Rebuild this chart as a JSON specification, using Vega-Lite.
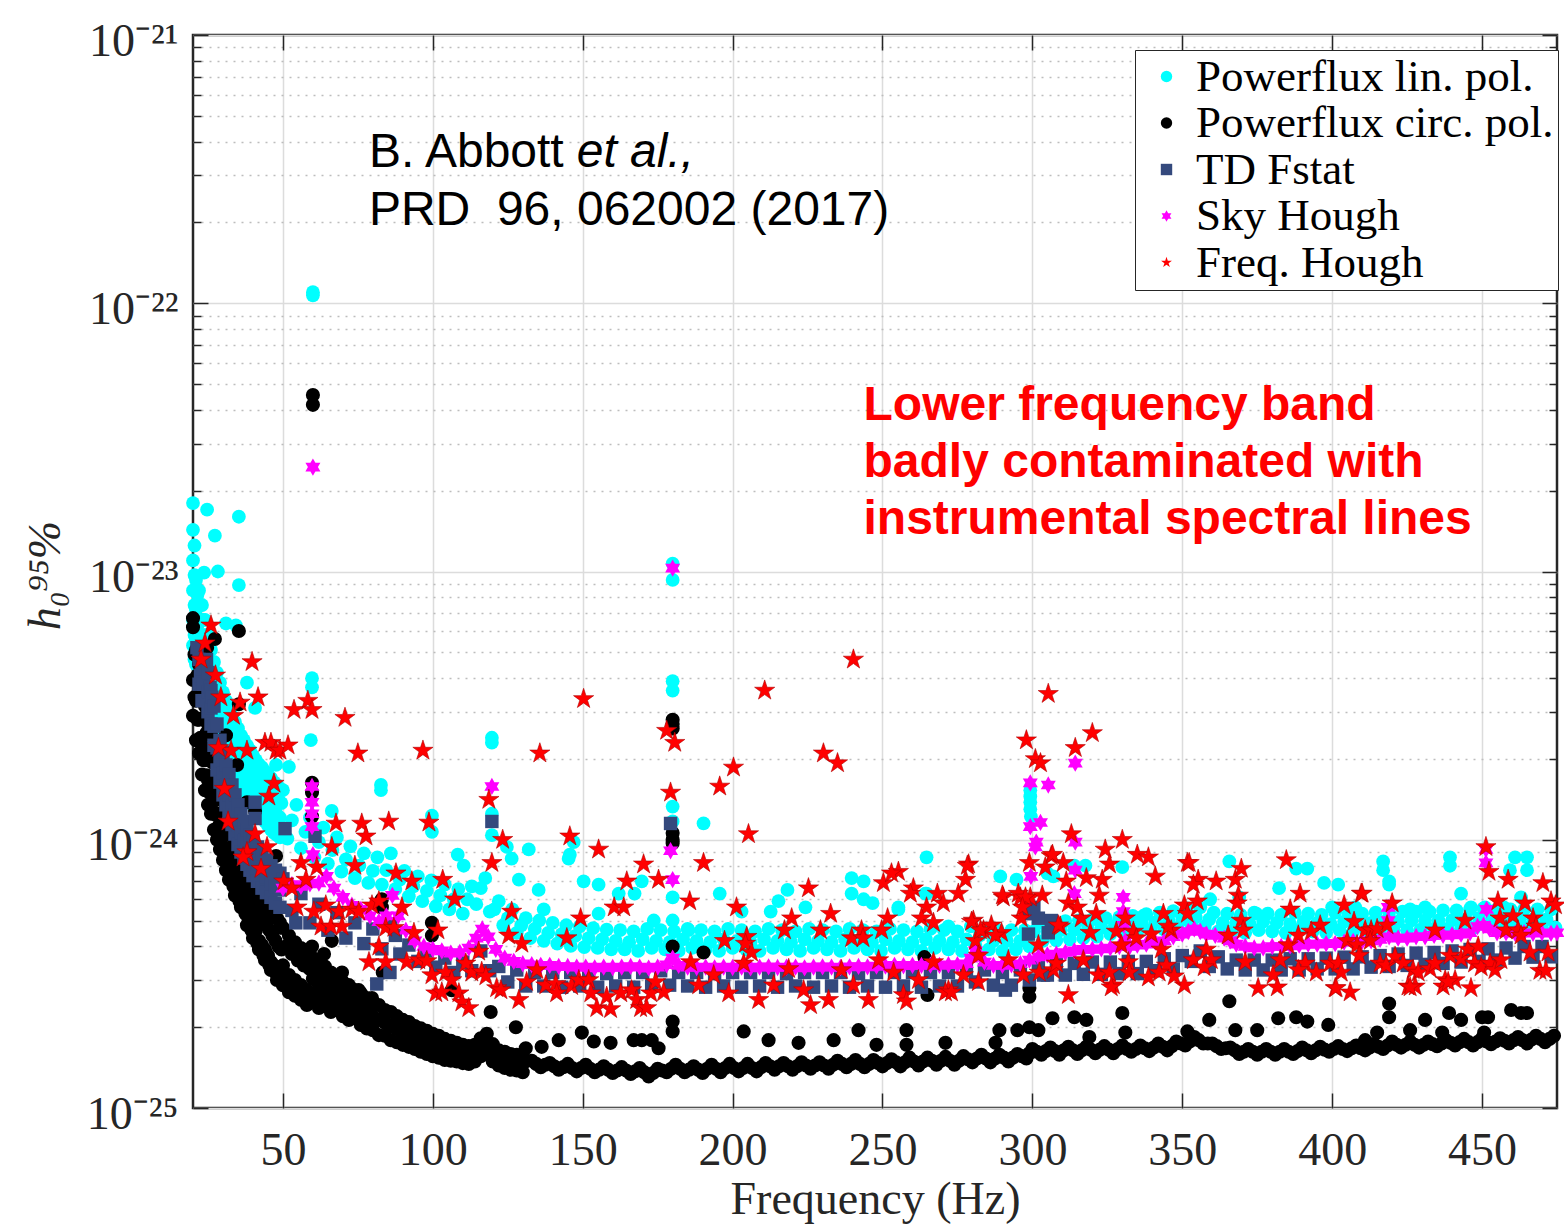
{
"$schema": "https://vega.github.io/schema/vega-lite/v6.json",
"width": 1364,
"height": 1073,
"autosize": {"type": "none"},
"padding": {"left": 193, "top": 35, "right": 7, "bottom": 117},
"background": "white",
"config": {"view": {"stroke": "#262626", "strokeWidth": 2.5}, "font": "Liberation Serif"},
"datasets": {
"lin": [
{"f":20,"h":1.8e-23},{"f":20,"h":1.43e-23},{"f":20,"h":1.1e-23},{"f":20,"h":8.5e-24},{"f":20,"h":6.6e-24},{"f":20,"h":5.3e-24},
{"f":20.5,"h":1.25e-23},{"f":20.5,"h":9.7e-24},{"f":20.5,"h":7.5e-24},{"f":20.5,"h":5.8e-24},{"f":20.5,"h":4.7e-24},
{"f":21,"h":9.3e-24},{"f":21,"h":7.2e-24},{"f":21,"h":5.55e-24},{"f":21,"h":4.5e-24},
{"f":21.5,"h":8.2e-24},{"f":21.5,"h":6.3e-24},{"f":21.5,"h":5e-24},
{"f":22,"h":8.5e-24},{"f":22,"h":6.6e-24},{"f":22,"h":5.1e-24},{"f":22,"h":4.1e-24},
{"f":22.5,"h":7.5e-24},{"f":22.5,"h":5.8e-24},{"f":22.5,"h":4.6e-24},
{"f":23,"h":7.5e-24},{"f":23,"h":5.8e-24},{"f":23,"h":4.5e-24},{"f":23,"h":3.6e-24},
{"f":23.5,"h":6.6e-24},{"f":23.5,"h":5.1e-24},{"f":23.5,"h":4e-24},
{"f":24,"h":6.6e-24},{"f":24,"h":5.1e-24},{"f":24,"h":3.94e-24},{"f":24,"h":3.32e-24},
{"f":24.5,"h":5.8e-24},{"f":24.5,"h":4.5e-24},{"f":24.5,"h":3.6e-24},
{"f":25,"h":5.8e-24},{"f":25,"h":4.5e-24},{"f":25,"h":3.55e-24},{"f":25,"h":3e-24},
{"f":25.5,"h":5.1e-24},{"f":25.5,"h":4e-24},{"f":25.5,"h":3.25e-24},
{"f":26,"h":5.1e-24},{"f":26,"h":3.94e-24},{"f":26,"h":3.15e-24},{"f":26,"h":2.7e-24},
{"f":26.5,"h":4.5e-24},{"f":26.5,"h":3.5e-24},{"f":26.5,"h":2.9e-24},
{"f":27,"h":4.6e-24},{"f":27,"h":3.6e-24},{"f":27,"h":2.9e-24},{"f":27,"h":2.45e-24},
{"f":27.5,"h":4.05e-24},{"f":27.5,"h":3.2e-24},{"f":27.5,"h":2.65e-24},
{"f":28,"h":4.2e-24},{"f":28,"h":3.3e-24},{"f":28,"h":2.7e-24},{"f":28,"h":2.25e-24},
{"f":28.5,"h":3.7e-24},{"f":28.5,"h":3e-24},{"f":28.5,"h":2.45e-24},
{"f":29,"h":3.85e-24},{"f":29,"h":3e-24},{"f":29,"h":2.45e-24},{"f":29,"h":2.12e-24},
{"f":29.5,"h":3.4e-24},{"f":29.5,"h":2.7e-24},{"f":29.5,"h":2.28e-24},
{"f":30,"h":3.55e-24},{"f":30,"h":2.8e-24},{"f":30,"h":2.25e-24},{"f":30,"h":1.98e-24},
{"f":30.5,"h":3.15e-24},{"f":30.5,"h":2.5e-24},{"f":30.5,"h":2.1e-24},
{"f":31,"h":3.3e-24},{"f":31,"h":2.6e-24},{"f":31,"h":2.12e-24},{"f":31.5,"h":2.95e-24},{"f":31.5,"h":2.35e-24},
{"f":32,"h":3.1e-24},{"f":32,"h":2.43e-24},{"f":32,"h":1.98e-24},{"f":32.5,"h":2.75e-24},{"f":32.5,"h":2.2e-24},
{"f":33,"h":2.9e-24},{"f":33,"h":2.28e-24},{"f":33,"h":1.88e-24},{"f":33.5,"h":2.57e-24},{"f":33.5,"h":2.07e-24},
{"f":34,"h":2.75e-24},{"f":34,"h":2.16e-24},{"f":34,"h":1.75e-24},{"f":34.5,"h":2.44e-24},{"f":34.5,"h":1.95e-24},
{"f":35,"h":2.6e-24},{"f":35,"h":2.05e-24},{"f":35,"h":1.67e-24},{"f":35.5,"h":2.3e-24},{"f":35.5,"h":1.85e-24},
{"f":36,"h":2.45e-24},{"f":36,"h":1.95e-24},{"f":36,"h":1.6e-24},{"f":36.5,"h":2.19e-24},{"f":36.5,"h":1.77e-24},
{"f":37,"h":2.35e-24},{"f":37,"h":1.86e-24},{"f":37,"h":1.52e-24},{"f":37.5,"h":2.09e-24},{"f":37.5,"h":1.68e-24},
{"f":38,"h":2.25e-24},{"f":38,"h":1.78e-24},{"f":38,"h":1.46e-24},{"f":38.5,"h":2e-24},{"f":38.5,"h":1.61e-24},
{"f":39,"h":2.16e-24},{"f":39,"h":1.7e-24},{"f":39,"h":1.41e-24},{"f":39.5,"h":1.92e-24},{"f":39.5,"h":1.55e-24},
{"f":40,"h":2.06e-24},{"f":40,"h":1.64e-24},{"f":40,"h":1.35e-24},{"f":40.5,"h":1.84e-24},{"f":40.5,"h":1.49e-24},
{"f":41,"h":1.98e-24},{"f":41,"h":1.58e-24},{"f":41,"h":1.29e-24},{"f":41.5,"h":1.77e-24},{"f":41.5,"h":1.43e-24},
{"f":42,"h":1.91e-24},{"f":42,"h":1.5e-24},{"f":42,"h":1.25e-24},{"f":42.5,"h":1.69e-24},{"f":42.5,"h":1.37e-24},
{"f":43,"h":1.86e-24},{"f":43,"h":1.46e-24},{"f":43,"h":1.21e-24},{"f":43.5,"h":1.65e-24},{"f":43.5,"h":1.33e-24},
{"f":44,"h":1.8e-24},{"f":44,"h":1.41e-24},{"f":44,"h":1.17e-24},{"f":44.5,"h":1.59e-24},{"f":44.5,"h":1.28e-24},
{"f":45,"h":1.75e-24},{"f":45,"h":1.36e-24},{"f":45,"h":1.13e-24},{"f":45.5,"h":1.54e-24},{"f":45.5,"h":1.24e-24},
{"f":46,"h":1.7e-24},{"f":46,"h":1.31e-24},{"f":46,"h":1.09e-24},{"f":46.5,"h":1.49e-24},{"f":46.5,"h":1.2e-24},
{"f":47,"h":1.64e-24},{"f":47,"h":1.27e-24},{"f":47,"h":1.06e-24},{"f":47.5,"h":1.44e-24},{"f":47.5,"h":1.16e-24},
{"f":48,"h":1.6e-24},{"f":48,"h":1.24e-24},{"f":48,"h":1.04e-24},{"f":48.5,"h":1.41e-24},{"f":48.5,"h":1.14e-24},
{"f":49,"h":1.55e-24},{"f":49,"h":1.21e-24},{"f":49,"h":1.02e-24},{"f":49.5,"h":1.37e-24},{"f":49.5,"h":1.11e-24},
{"f":50,"h":1.53e-24},{"f":51.5,"h":1.01e-24},{"f":53,"h":1.18e-24},{"f":54.5,"h":1.35e-24},{"f":56,"h":9.3e-25},{"f":57.5,"h":1.07e-24},
{"f":59,"h":1.21e-24},{"f":60.5,"h":8.6e-25},{"f":62,"h":9.8e-25},{"f":63.5,"h":1.11e-24},{"f":65,"h":8.15e-25},{"f":66.5,"h":9.15e-25},
{"f":68,"h":1.02e-24},{"f":69.5,"h":7.6e-25},{"f":71,"h":8.45e-25},{"f":72.5,"h":9.45e-25},{"f":74,"h":7.2e-25},{"f":75.5,"h":8e-25},
{"f":77,"h":8.9e-25},{"f":78.5,"h":6.9e-25},{"f":80,"h":7.65e-25},{"f":81.5,"h":8.6e-25},{"f":83,"h":6.8e-25},{"f":84.5,"h":7.7e-25},
{"f":86,"h":8.9e-25},{"f":87.5,"h":6.55e-25},{"f":89,"h":7.1e-25},{"f":90.5,"h":7.65e-25},{"f":92,"h":6.15e-25},{"f":93.5,"h":6.7e-25},
{"f":95,"h":7.3e-25},{"f":96.5,"h":5.9e-25},{"f":98,"h":6.45e-25},{"f":99.5,"h":7.05e-25},{"f":101,"h":5.65e-25},{"f":102.5,"h":6.2e-25},
{"f":104,"h":6.8e-25},{"f":105.5,"h":5.5e-25},{"f":107,"h":6e-25},{"f":108.5,"h":6.55e-25},{"f":110,"h":5.3e-25},{"f":111.5,"h":6e-25},
{"f":113,"h":6.7e-25},{"f":114.5,"h":5.75e-25},{"f":116,"h":6.6e-25},{"f":117.5,"h":7.2e-25},{"f":119,"h":5.4e-25},{"f":120.5,"h":5.5e-25},
{"f":122,"h":5.9e-25},{"f":123.5,"h":4.8e-25},{"f":125,"h":5.1e-25},{"f":126.5,"h":5.5e-25},{"f":128,"h":4.5e-25},{"f":129.5,"h":4.8e-25},
{"f":131,"h":5.1e-25},{"f":132.5,"h":4.3e-25},{"f":134,"h":4.65e-25},{"f":135.5,"h":5e-25},{"f":137,"h":4.2e-25},{"f":138.5,"h":4.5e-25},
{"f":140,"h":4.9e-25},{"f":141.5,"h":4.1e-25},{"f":143,"h":4.45e-25},{"f":144.5,"h":4.8e-25},{"f":146,"h":4.02e-25},{"f":147.5,"h":4.38e-25},
{"f":149,"h":4.75e-25},{"f":150.5,"h":3.98e-25},{"f":152,"h":4.3e-25},{"f":153.5,"h":4.68e-25},{"f":155,"h":3.95e-25},{"f":156.5,"h":4.25e-25},
{"f":158,"h":4.62e-25},{"f":159.5,"h":3.9e-25},
{"f":161,"h":4.2e-25},{"f":162.5,"h":4.6e-25},{"f":164,"h":3.9e-25},{"f":165.5,"h":4.15e-25},{"f":167,"h":4.55e-25},{"f":168.5,"h":3.85e-25},
{"f":170,"h":4.25e-25},{"f":171.5,"h":4.65e-25},{"f":173,"h":3.95e-25},{"f":174.5,"h":4.2e-25},{"f":176,"h":4.6e-25},{"f":177.5,"h":3.9e-25},
{"f":179,"h":4.15e-25},{"f":180.5,"h":4.55e-25},{"f":182,"h":3.85e-25},{"f":183.5,"h":4.25e-25},{"f":185,"h":4.65e-25},{"f":186.5,"h":3.95e-25},
{"f":188,"h":4.2e-25},{"f":189.5,"h":4.6e-25},{"f":191,"h":3.9e-25},{"f":192.5,"h":4.15e-25},{"f":194,"h":4.55e-25},{"f":195.5,"h":3.85e-25},
{"f":197,"h":4.25e-25},{"f":198.5,"h":4.65e-25},{"f":200,"h":3.95e-25},{"f":201.5,"h":4.2e-25},{"f":203,"h":4.6e-25},{"f":204.5,"h":3.9e-25},
{"f":206,"h":4.15e-25},{"f":207.5,"h":4.55e-25},{"f":209,"h":3.85e-25},{"f":210.5,"h":4.25e-25},{"f":212,"h":4.65e-25},{"f":213.5,"h":3.95e-25},
{"f":215,"h":4.2e-25},{"f":216.5,"h":4.6e-25},{"f":218,"h":3.9e-25},{"f":219.5,"h":4.15e-25},{"f":221,"h":4.55e-25},{"f":222.5,"h":3.85e-25},
{"f":224,"h":4.25e-25},{"f":225.5,"h":4.65e-25},{"f":227,"h":3.95e-25},{"f":228.5,"h":4.2e-25},{"f":230,"h":4.6e-25},{"f":231.5,"h":3.9e-25},
{"f":233,"h":4.15e-25},{"f":234.5,"h":4.55e-25},{"f":236,"h":3.85e-25},{"f":237.5,"h":4.25e-25},{"f":239,"h":4.65e-25},{"f":240.5,"h":3.95e-25},
{"f":242,"h":4.2e-25},{"f":243.5,"h":4.6e-25},{"f":245,"h":3.9e-25},{"f":246.5,"h":4.15e-25},{"f":248,"h":4.55e-25},{"f":249.5,"h":3.85e-25},
{"f":251,"h":4.25e-25},{"f":252.5,"h":4.65e-25},{"f":254,"h":3.95e-25},{"f":255.5,"h":4.2e-25},{"f":257,"h":4.6e-25},{"f":258.5,"h":3.9e-25},
{"f":260,"h":4.15e-25},{"f":261.5,"h":4.55e-25},{"f":263,"h":3.85e-25},{"f":264.5,"h":4.25e-25},{"f":266,"h":4.65e-25},{"f":267.5,"h":3.95e-25},
{"f":269,"h":4.2e-25},{"f":270.5,"h":4.6e-25},{"f":272,"h":3.9e-25},{"f":273.5,"h":4.15e-25},{"f":275,"h":4.55e-25},{"f":276.5,"h":3.85e-25},
{"f":278,"h":4.25e-25},{"f":279.5,"h":4.75e-25},{"f":281,"h":4.05e-25},{"f":282.5,"h":4.4e-25},{"f":284,"h":4.6e-25},{"f":285.5,"h":3.9e-25},
{"f":287,"h":4.2e-25},{"f":288.5,"h":4.6e-25},{"f":290,"h":3.85e-25},{"f":291.5,"h":4.2e-25},{"f":293,"h":4.6e-25},{"f":294.5,"h":3.9e-25},
{"f":296,"h":4.2e-25},{"f":297.5,"h":4.6e-25},{"f":299,"h":4e-25},{"f":300.5,"h":4.55e-25},{"f":302,"h":4.9e-25},{"f":303.5,"h":4.2e-25},
{"f":305,"h":4.55e-25},{"f":306.5,"h":4.95e-25},{"f":308,"h":4.22e-25},{"f":309.5,"h":4.6e-25},{"f":311,"h":4.97e-25},{"f":312.5,"h":4.25e-25},
{"f":314,"h":4.62e-25},{"f":315.5,"h":5e-25},{"f":317,"h":4.3e-25},{"f":318.5,"h":4.65e-25},{"f":320,"h":5.05e-25},{"f":321.5,"h":4.35e-25},
{"f":323,"h":4.7e-25},{"f":324.5,"h":5.1e-25},{"f":326,"h":4.45e-25},{"f":327.5,"h":4.78e-25},{"f":329,"h":5.15e-25},{"f":330.5,"h":4.5e-25},
{"f":332,"h":4.82e-25},{"f":333.5,"h":5.2e-25},{"f":335,"h":4.55e-25},{"f":336.5,"h":4.88e-25},{"f":338,"h":5.28e-25},{"f":339.5,"h":4.6e-25},
{"f":341,"h":4.92e-25},{"f":342.5,"h":5.35e-25},{"f":344,"h":4.62e-25},{"f":345.5,"h":4.97e-25},{"f":347,"h":5.42e-25},{"f":348.5,"h":4.68e-25},
{"f":350,"h":5.05e-25},{"f":351.5,"h":5.55e-25},{"f":353,"h":4.8e-25},{"f":354.5,"h":5.15e-25},{"f":356,"h":5.6e-25},{"f":357.5,"h":4.75e-25},
{"f":359,"h":5.05e-25},{"f":360.5,"h":5.35e-25},{"f":362,"h":4.55e-25},{"f":363.5,"h":4.9e-25},{"f":365,"h":5.3e-25},{"f":366.5,"h":4.55e-25},
{"f":368,"h":4.9e-25},{"f":369.5,"h":5.25e-25},{"f":371,"h":4.5e-25},{"f":372.5,"h":4.85e-25},{"f":374,"h":5.35e-25},{"f":375.5,"h":4.6e-25},
{"f":377,"h":4.95e-25},{"f":378.5,"h":5.3e-25},{"f":380,"h":4.55e-25},{"f":381.5,"h":4.9e-25},{"f":383,"h":5.25e-25},{"f":384.5,"h":4.5e-25},
{"f":386,"h":4.85e-25},{"f":387.5,"h":5.35e-25},{"f":389,"h":4.6e-25},{"f":390.5,"h":4.95e-25},{"f":392,"h":5.3e-25},{"f":393.5,"h":4.55e-25},
{"f":395,"h":4.9e-25},{"f":396.5,"h":5.25e-25},{"f":398,"h":4.5e-25},{"f":399.5,"h":4.85e-25},{"f":401,"h":5.35e-25},{"f":402.5,"h":4.6e-25},
{"f":404,"h":4.95e-25},{"f":405.5,"h":5.3e-25},{"f":407,"h":4.55e-25},{"f":408.5,"h":4.9e-25},{"f":410,"h":5.3e-25},{"f":411.5,"h":4.55e-25},
{"f":413,"h":4.9e-25},{"f":414.5,"h":5.35e-25},{"f":416,"h":4.6e-25},{"f":417.5,"h":4.95e-25},{"f":419,"h":5.35e-25},{"f":420.5,"h":4.6e-25},
{"f":422,"h":4.95e-25},{"f":423.5,"h":5.4e-25},{"f":425,"h":4.6e-25},{"f":426.5,"h":5e-25},{"f":428,"h":5.4e-25},{"f":429.5,"h":4.62e-25},
{"f":431,"h":5e-25},{"f":432.5,"h":5.4e-25},{"f":434,"h":4.65e-25},{"f":435.5,"h":5e-25},{"f":437,"h":5.45e-25},{"f":438.5,"h":4.65e-25},
{"f":440,"h":5.02e-25},{"f":441.5,"h":5.45e-25},{"f":443,"h":4.68e-25},{"f":444.5,"h":5.05e-25},{"f":446,"h":5.5e-25},{"f":447.5,"h":4.7e-25},
{"f":449,"h":5.1e-25},{"f":450.5,"h":5.55e-25},{"f":452,"h":4.75e-25},{"f":453.5,"h":5.1e-25},{"f":455,"h":5.5e-25},{"f":456.5,"h":4.7e-25},
{"f":458,"h":5.05e-25},{"f":459.5,"h":5.5e-25},{"f":461,"h":4.7e-25},{"f":462.5,"h":5.05e-25},{"f":464,"h":5.5e-25},{"f":465.5,"h":4.7e-25},
{"f":467,"h":5.05e-25},{"f":468.5,"h":5.5e-25},{"f":470,"h":4.7e-25},{"f":471.5,"h":5.05e-25},{"f":473,"h":5.5e-25},{"f":474.5,"h":4.7e-25},
{"f":24.7,"h":1.7e-23},{"f":35.3,"h":1.6e-23},{"f":27.3,"h":1.36e-23},{"f":28.3,"h":1e-23},{"f":23.7,"h":9.9e-24},{"f":35.3,"h":8.9e-24},
{"f":31,"h":6.4e-24},{"f":34.3,"h":6.3e-24},{"f":38,"h":3.85e-24},{"f":40.7,"h":3.1e-24},{"f":47.7,"h":1.9e-24},{"f":52,"h":1.87e-24},
{"f":59.3,"h":2.35e-24},{"f":59.7,"h":4e-24},{"f":59.7,"h":3.7e-24},{"f":60,"h":1.1e-22},{"f":60,"h":1.07e-22},{"f":66.3,"h":1.28e-24},
{"f":82.7,"h":1.6e-24},{"f":82.7,"h":1.53e-24},{"f":99.7,"h":1.23e-24},{"f":99.7,"h":1.07e-24},{"f":108.3,"h":8.8e-25},{"f":119.7,"h":2.4e-24},
{"f":119.7,"h":2.3e-24},{"f":119.7,"h":1.25e-24},{"f":119.7,"h":1.04e-24},{"f":124.7,"h":9.4e-25},{"f":132,"h":9.2e-25},{"f":145.7,"h":8.8e-25},
{"f":147,"h":9.8e-25},{"f":180,"h":1.07e-23},{"f":180,"h":9.3e-24},{"f":180,"h":3.9e-24},{"f":180,"h":3.6e-24},{"f":180,"h":1.33e-24},
{"f":180,"h":1.17e-24},{"f":180,"h":6.1e-25},{"f":180,"h":5e-25},{"f":190.3,"h":1.15e-24},{"f":195.7,"h":6.3e-25},{"f":264.7,"h":8.6e-25},
{"f":169.7,"h":7e-25},{"f":167.3,"h":6.3e-25},{"f":162,"h":6.3e-25},{"f":155.3,"h":6.8e-25},{"f":173.7,"h":5e-25},{"f":203,"h":5.4e-25},
{"f":212.7,"h":5.4e-25},{"f":215.3,"h":5.9e-25},{"f":218.3,"h":6.5e-25},{"f":224.3,"h":5.6e-25},{"f":239.7,"h":7.2e-25},{"f":239.7,"h":6.3e-25},
{"f":243.7,"h":7e-25},{"f":243.7,"h":6e-25},{"f":246.7,"h":5.8e-25},{"f":255.3,"h":5.5e-25},{"f":264.7,"h":6.3e-25},{"f":289.3,"h":7.3e-25},
{"f":294.7,"h":7.1e-25},{"f":299.3,"h":1.53e-24},{"f":299.3,"h":1.45e-24},{"f":299.3,"h":1.38e-24},{"f":299.3,"h":1.3e-24},{"f":299.5,"h":1.22e-24},
{"f":305,"h":7.5e-25},{"f":307,"h":7.3e-25},{"f":314,"h":8e-25},{"f":317.7,"h":8e-25},{"f":330,"h":7.9e-25},{"f":337,"h":5.2e-25},
{"f":365.7,"h":8.3e-25},{"f":382.3,"h":6.6e-25},{"f":388,"h":7.8e-25},{"f":391.7,"h":7.8e-25},{"f":397.3,"h":6.9e-25},{"f":402,"h":6.8e-25},
{"f":407.7,"h":5.6e-25},{"f":417,"h":8.3e-25},{"f":417,"h":7.7e-25},{"f":419,"h":7e-25},{"f":419,"h":6.8e-25},{"f":426,"h":5.5e-25},
{"f":431,"h":5.6e-25},{"f":439.3,"h":8.6e-25},{"f":439.3,"h":8e-25},{"f":443,"h":6.3e-25},{"f":446.3,"h":5.6e-25},{"f":451,"h":5.6e-25},
{"f":457.3,"h":5.6e-25},{"f":461,"h":8.6e-25},{"f":465,"h":8.6e-25},{"f":459.3,"h":7.7e-25},{"f":465,"h":7.7e-25},{"f":463,"h":6.1e-25},
{"f":374.7,"h":5.3e-25},{"f":359.3,"h":6e-25},{"f":369,"h":6.1e-25},{"f":272,"h":4.75e-25},{"f":264.3,"h":6.3e-25},{"f":255.3,"h":5.6e-25},
{"f":400,"h":5.6e-25},{"f":110.3,"h":8e-25},{"f":126.3,"h":8.5e-25},{"f":145.3,"h":8.5e-25},{"f":150.3,"h":7e-25},{"f":137,"h":5.5e-25},
{"f":155.3,"h":5.3e-25},{"f":128.7,"h":7.1e-25},{"f":135.3,"h":6.5e-25},{"f":185.3,"h":4.6e-25}
],
"circ": [
{"f":20,"h":6.2e-24},{"f":20,"h":3.94e-24},{"f":20,"h":2.9e-24},{"f":20.5,"h":4.9e-24},{"f":20.5,"h":3.4e-24},
{"f":21,"h":5.1e-24},{"f":21,"h":3.3e-24},{"f":21,"h":2.35e-24},{"f":21.5,"h":4.1e-24},{"f":21.5,"h":2.8e-24},
{"f":22,"h":4.5e-24},{"f":22,"h":2.8e-24},{"f":22,"h":2.1e-24},{"f":22.5,"h":3.55e-24},{"f":22.5,"h":2.4e-24},
{"f":23,"h":3.6e-24},{"f":23,"h":2.25e-24},{"f":23,"h":1.75e-24},{"f":23.5,"h":2.85e-24},{"f":23.5,"h":1.98e-24},
{"f":24,"h":3.15e-24},{"f":24,"h":1.98e-24},{"f":24,"h":1.53e-24},{"f":24.5,"h":2.5e-24},{"f":24.5,"h":1.74e-24},
{"f":25,"h":2.7e-24},{"f":25,"h":1.67e-24},{"f":25,"h":1.35e-24},{"f":25.5,"h":2.12e-24},{"f":25.5,"h":1.5e-24},
{"f":26,"h":2.45e-24},{"f":26,"h":1.53e-24},{"f":26,"h":1.25e-24},{"f":26.5,"h":1.94e-24},{"f":26.5,"h":1.38e-24},
{"f":27,"h":2.16e-24},{"f":27,"h":1.41e-24},{"f":27,"h":1.09e-24},{"f":27.5,"h":1.75e-24},{"f":27.5,"h":1.24e-24},
{"f":28,"h":1.9e-24},{"f":28,"h":1.25e-24},{"f":28,"h":1e-24},{"f":28.5,"h":1.54e-24},{"f":28.5,"h":1.12e-24},
{"f":29,"h":1.75e-24},{"f":29,"h":1.14e-24},{"f":29,"h":9.2e-25},{"f":29.5,"h":1.41e-24},{"f":29.5,"h":1.02e-24},
{"f":30,"h":1.6e-24},{"f":30,"h":1.04e-24},{"f":30,"h":8.4e-25},{"f":30.5,"h":1.29e-24},{"f":30.5,"h":9.3e-25},
{"f":31,"h":1.41e-24},{"f":31,"h":9.2e-25},{"f":31,"h":7.7e-25},{"f":31.5,"h":1.14e-24},{"f":31.5,"h":8.4e-25},
{"f":32,"h":1.29e-24},{"f":32,"h":8.4e-25},{"f":32,"h":7.1e-25},{"f":32.5,"h":1.04e-24},{"f":32.5,"h":7.7e-25},
{"f":33,"h":1.19e-24},{"f":33,"h":7.8e-25},{"f":33.5,"h":9.6e-25},{"f":33.5,"h":6.7e-25},
{"f":34,"h":1.09e-24},{"f":34,"h":7.2e-25},{"f":34,"h":6.2e-25},{"f":34.5,"h":8.9e-25},{"f":34.5,"h":6.7e-25},
{"f":35,"h":1e-24},{"f":35,"h":6.8e-25},{"f":35.5,"h":8.2e-25},{"f":35.5,"h":5.9e-25},
{"f":36,"h":9.4e-25},{"f":36,"h":6.35e-25},{"f":36,"h":5.6e-25},{"f":36.5,"h":7.7e-25},{"f":36.5,"h":5.9e-25},
{"f":37,"h":8.7e-25},{"f":37,"h":6e-25},{"f":37.5,"h":7.2e-25},{"f":37.5,"h":5.3e-25},
{"f":38,"h":8.25e-25},{"f":38,"h":5.5e-25},{"f":38,"h":4.8e-25},{"f":38.5,"h":6.7e-25},{"f":38.5,"h":5.1e-25},
{"f":39,"h":7.7e-25},{"f":39,"h":5.2e-25},{"f":39.5,"h":6.3e-25},{"f":39.5,"h":4.6e-25},
{"f":40,"h":7.25e-25},{"f":40,"h":4.8e-25},{"f":40,"h":4.3e-25},{"f":40.5,"h":5.9e-25},{"f":40.5,"h":4.5e-25},
{"f":41,"h":6.85e-25},{"f":41,"h":4.6e-25},{"f":41.5,"h":5.6e-25},{"f":41.5,"h":4.1e-25},
{"f":42,"h":6.5e-25},{"f":42,"h":4.2e-25},{"f":42,"h":3.9e-25},{"f":42.5,"h":5.2e-25},{"f":42.5,"h":4e-25},
{"f":43,"h":6.2e-25},{"f":43,"h":4.05e-25},{"f":43.5,"h":5e-25},{"f":43.5,"h":3.7e-25},
{"f":44,"h":6e-25},{"f":44,"h":3.9e-25},{"f":44,"h":3.56e-25},{"f":44.5,"h":4.8e-25},{"f":44.5,"h":3.7e-25},
{"f":45,"h":5.7e-25},{"f":45,"h":3.7e-25},{"f":45.5,"h":4.6e-25},{"f":45.5,"h":3.4e-25},
{"f":46,"h":5.5e-25},{"f":46,"h":3.5e-25},{"f":46,"h":3.27e-25},{"f":46.5,"h":4.4e-25},{"f":46.5,"h":3.4e-25},
{"f":47,"h":5.2e-25},{"f":47,"h":3.4e-25},{"f":47.5,"h":4.2e-25},{"f":47.5,"h":3.2e-25},
{"f":48,"h":5.1e-25},{"f":48,"h":3.2e-25},{"f":48,"h":3e-25},{"f":48.5,"h":4e-25},{"f":48.5,"h":3.1e-25},
{"f":49,"h":4.9e-25},{"f":49,"h":3.13e-25},{"f":49.5,"h":3.9e-25},{"f":49.5,"h":2.95e-25},
{"f":50,"h":4.7e-25},{"f":50,"h":3.4e-25},{"f":50,"h":2.87e-25},{"f":51,"h":4e-25},{"f":51,"h":3e-25},
{"f":52,"h":4.4e-25},{"f":52,"h":3.13e-25},{"f":52,"h":2.7e-25},{"f":53,"h":3.75e-25},{"f":53,"h":2.8e-25},
{"f":54,"h":4.15e-25},{"f":54,"h":3e-25},{"f":54,"h":2.62e-25},{"f":55,"h":3.55e-25},{"f":55,"h":2.7e-25},
{"f":56,"h":3.95e-25},{"f":56,"h":2.87e-25},{"f":56,"h":2.53e-25},{"f":57,"h":3.4e-25},{"f":57,"h":2.6e-25},
{"f":58,"h":3.78e-25},{"f":58,"h":2.75e-25},{"f":58,"h":2.42e-25},{"f":59,"h":3.3e-25},{"f":59,"h":2.5e-25},
{"f":60,"h":3.62e-25},{"f":60,"h":3.03e-25},{"f":60,"h":2.53e-25},{"f":61,"h":3.27e-25},{"f":61,"h":2.68e-25},
{"f":62,"h":3.5e-25},{"f":62,"h":2.87e-25},{"f":62,"h":2.36e-25},{"f":63,"h":3.15e-25},{"f":63,"h":2.62e-25},
{"f":64,"h":3.37e-25},{"f":64,"h":2.87e-25},{"f":64,"h":2.44e-25},{"f":65,"h":3.03e-25},{"f":65,"h":2.54e-25},
{"f":66,"h":3.2e-25},{"f":66,"h":2.7e-25},{"f":66,"h":2.28e-25},{"f":67,"h":2.92e-25},{"f":67,"h":2.48e-25},
{"f":68,"h":3.1e-25},{"f":68,"h":2.68e-25},{"f":68,"h":2.32e-25},{"f":69,"h":2.82e-25},{"f":69,"h":2.44e-25},
{"f":70,"h":2.95e-25},{"f":70,"h":2.55e-25},{"f":70,"h":2.2e-25},{"f":71,"h":2.7e-25},{"f":71,"h":2.34e-25},
{"f":72,"h":2.87e-25},{"f":72,"h":2.47e-25},{"f":72,"h":2.13e-25},{"f":73,"h":2.64e-25},{"f":73,"h":2.3e-25},
{"f":74,"h":2.75e-25},{"f":74,"h":2.44e-25},{"f":74,"h":2.16e-25},{"f":75,"h":2.55e-25},{"f":75,"h":2.24e-25},
{"f":76,"h":2.68e-25},{"f":76,"h":2.34e-25},{"f":76,"h":2.04e-25},{"f":77,"h":2.47e-25},{"f":77,"h":2.16e-25},
{"f":78,"h":2.57e-25},{"f":78,"h":2.26e-25},{"f":78,"h":1.98e-25},{"f":79,"h":2.38e-25},{"f":79,"h":2.09e-25},
{"f":80,"h":2.48e-25},{"f":80,"h":2.2e-25},{"f":80,"h":1.95e-25},
{"f":82,"h":2.42e-25},{"f":82,"h":2.13e-25},{"f":82,"h":1.87e-25},
{"f":84,"h":2.32e-25},{"f":84,"h":2.08e-25},{"f":84,"h":1.86e-25},
{"f":86,"h":2.28e-25},{"f":86,"h":2.02e-25},{"f":86,"h":1.79e-25},
{"f":88,"h":2.2e-25},{"f":88,"h":1.97e-25},{"f":88,"h":1.76e-25},
{"f":90,"h":2.13e-25},{"f":90,"h":1.91e-25},{"f":90,"h":1.72e-25},
{"f":92,"h":2.09e-25},{"f":92,"h":1.88e-25},{"f":92,"h":1.69e-25},
{"f":94,"h":2.02e-25},{"f":94,"h":1.83e-25},{"f":94,"h":1.66e-25},
{"f":96,"h":1.98e-25},{"f":96,"h":1.79e-25},{"f":96,"h":1.62e-25},
{"f":98,"h":1.94e-25},{"f":98,"h":1.76e-25},{"f":98,"h":1.59e-25},
{"f":100,"h":1.89e-25},{"f":100,"h":1.72e-25},{"f":100,"h":1.56e-25},
{"f":102,"h":1.86e-25},{"f":102,"h":1.69e-25},{"f":102,"h":1.54e-25},
{"f":104,"h":1.81e-25},{"f":104,"h":1.65e-25},{"f":104,"h":1.51e-25},
{"f":106,"h":1.78e-25},{"f":106,"h":1.63e-25},{"f":106,"h":1.5e-25},
{"f":108,"h":1.75e-25},{"f":108,"h":1.61e-25},{"f":108,"h":1.49e-25},
{"f":110,"h":1.72e-25},{"f":110,"h":1.59e-25},{"f":110,"h":1.47e-25},
{"f":112,"h":1.7e-25},{"f":112,"h":1.58e-25},{"f":112,"h":1.46e-25},
{"f":114,"h":1.72e-25},{"f":114,"h":1.6e-25},{"f":114,"h":1.49e-25},
{"f":116,"h":1.82e-25},{"f":116,"h":1.68e-25},{"f":116,"h":1.56e-25},
{"f":118,"h":1.89e-25},{"f":118,"h":1.75e-25},{"f":118,"h":1.62e-25},
{"f":120,"h":1.73e-25},{"f":120,"h":1.6e-25},{"f":120,"h":1.49e-25},
{"f":122,"h":1.64e-25},{"f":122,"h":1.54e-25},{"f":122,"h":1.44e-25},
{"f":124,"h":1.62e-25},{"f":124,"h":1.51e-25},{"f":124,"h":1.41e-25},
{"f":126,"h":1.59e-25},{"f":126,"h":1.48e-25},{"f":126,"h":1.39e-25},
{"f":128,"h":1.58e-25},{"f":128,"h":1.47e-25},{"f":128,"h":1.38e-25},
{"f":130,"h":1.56e-25},{"f":130,"h":1.46e-25},{"f":130,"h":1.36e-25},
{"f":133,"h":1.5e-25},{"f":136,"h":1.42e-25},{"f":139,"h":1.47e-25},{"f":142,"h":1.39e-25},{"f":145,"h":1.46e-25},{"f":148,"h":1.37e-25},
{"f":151,"h":1.45e-25},{"f":154,"h":1.36e-25},{"f":157,"h":1.43e-25},{"f":160,"h":1.35e-25},{"f":163,"h":1.42e-25},{"f":166,"h":1.34e-25},
{"f":169,"h":1.41e-25},{"f":172,"h":1.31e-25},{"f":175,"h":1.4e-25},{"f":178,"h":1.36e-25},{"f":181,"h":1.45e-25},{"f":184,"h":1.36e-25},
{"f":187,"h":1.43e-25},{"f":190,"h":1.35e-25},{"f":193,"h":1.45e-25},{"f":196,"h":1.36e-25},{"f":199,"h":1.46e-25},{"f":202,"h":1.37e-25},
{"f":205,"h":1.46e-25},{"f":208,"h":1.37e-25},{"f":211,"h":1.47e-25},{"f":214,"h":1.39e-25},{"f":217,"h":1.47e-25},{"f":220,"h":1.39e-25},
{"f":223,"h":1.48e-25},{"f":226,"h":1.4e-25},{"f":229,"h":1.48e-25},{"f":232,"h":1.4e-25},{"f":235,"h":1.5e-25},{"f":238,"h":1.42e-25},
{"f":241,"h":1.51e-25},{"f":244,"h":1.42e-25},{"f":247,"h":1.51e-25},{"f":250,"h":1.43e-25},{"f":253,"h":1.52e-25},{"f":256,"h":1.43e-25},
{"f":259,"h":1.54e-25},{"f":262,"h":1.44e-25},{"f":265,"h":1.54e-25},{"f":268,"h":1.45e-25},{"f":271,"h":1.55e-25},{"f":274,"h":1.45e-25},
{"f":277,"h":1.56e-25},{"f":280,"h":1.48e-25},{"f":283,"h":1.58e-25},{"f":286,"h":1.48e-25},{"f":289,"h":1.58e-25},{"f":292,"h":1.49e-25},
{"f":295,"h":1.59e-25},{"f":298,"h":1.53e-25},{"f":300,"h":1.66e-25},{"f":303,"h":1.58e-25},{"f":306,"h":1.68e-25},{"f":309,"h":1.58e-25},
{"f":312,"h":1.69e-25},{"f":315,"h":1.59e-25},{"f":318,"h":1.69e-25},{"f":321,"h":1.6e-25},{"f":324,"h":1.7e-25},{"f":327,"h":1.6e-25},
{"f":330,"h":1.71e-25},{"f":333,"h":1.62e-25},{"f":336,"h":1.71e-25},{"f":339,"h":1.63e-25},{"f":342,"h":1.74e-25},{"f":345,"h":1.64e-25},
{"f":348,"h":1.77e-25},{"f":351,"h":1.71e-25},{"f":354,"h":1.84e-25},{"f":357,"h":1.74e-25},{"f":360,"h":1.74e-25},{"f":363,"h":1.66e-25},
{"f":366,"h":1.68e-25},{"f":369,"h":1.59e-25},{"f":372,"h":1.66e-25},{"f":375,"h":1.58e-25},{"f":378,"h":1.66e-25},{"f":381,"h":1.58e-25},
{"f":384,"h":1.66e-25},{"f":387,"h":1.59e-25},{"f":390,"h":1.68e-25},{"f":393,"h":1.6e-25},{"f":396,"h":1.69e-25},{"f":399,"h":1.62e-25},
{"f":402,"h":1.7e-25},{"f":405,"h":1.63e-25},{"f":408,"h":1.71e-25},{"f":411,"h":1.64e-25},{"f":414,"h":1.73e-25},{"f":417,"h":1.66e-25},
{"f":420,"h":1.77e-25},{"f":423,"h":1.68e-25},{"f":426,"h":1.77e-25},{"f":429,"h":1.68e-25},{"f":432,"h":1.77e-25},{"f":435,"h":1.7e-25},
{"f":438,"h":1.79e-25},{"f":441,"h":1.71e-25},{"f":444,"h":1.81e-25},{"f":447,"h":1.71e-25},{"f":450,"h":1.82e-25},{"f":453,"h":1.73e-25},
{"f":456,"h":1.82e-25},{"f":459,"h":1.74e-25},{"f":462,"h":1.84e-25},{"f":465,"h":1.74e-25},{"f":468,"h":1.86e-25},{"f":471,"h":1.76e-25},
{"f":474,"h":1.86e-25},
{"f":134.5,"h":1.46e-25},{"f":137.5,"h":1.45e-25},{"f":140.5,"h":1.43e-25},{"f":143.5,"h":1.42e-25},{"f":146.5,"h":1.41e-25},{"f":149.5,"h":1.41e-25},
{"f":152.5,"h":1.4e-25},{"f":155.5,"h":1.39e-25},{"f":158.5,"h":1.39e-25},{"f":161.5,"h":1.38e-25},{"f":164.5,"h":1.38e-25},{"f":167.5,"h":1.37e-25},
{"f":170.5,"h":1.36e-25},{"f":173.5,"h":1.35e-25},{"f":176.5,"h":1.38e-25},{"f":179.5,"h":1.4e-25},{"f":182.5,"h":1.4e-25},{"f":185.5,"h":1.39e-25},
{"f":188.5,"h":1.39e-25},{"f":191.5,"h":1.4e-25},{"f":194.5,"h":1.4e-25},{"f":197.5,"h":1.41e-25},{"f":200.5,"h":1.41e-25},{"f":203.5,"h":1.41e-25},
{"f":206.5,"h":1.41e-25},{"f":209.5,"h":1.42e-25},{"f":212.5,"h":1.43e-25},{"f":215.5,"h":1.43e-25},{"f":218.5,"h":1.43e-25},{"f":221.5,"h":1.43e-25},
{"f":224.5,"h":1.44e-25},{"f":227.5,"h":1.44e-25},{"f":230.5,"h":1.44e-25},{"f":233.5,"h":1.45e-25},{"f":236.5,"h":1.46e-25},{"f":239.5,"h":1.46e-25},
{"f":242.5,"h":1.46e-25},{"f":245.5,"h":1.46e-25},{"f":248.5,"h":1.47e-25},{"f":251.5,"h":1.47e-25},{"f":254.5,"h":1.48e-25},{"f":257.5,"h":1.48e-25},
{"f":260.5,"h":1.49e-25},{"f":263.5,"h":1.49e-25},{"f":266.5,"h":1.5e-25},{"f":269.5,"h":1.5e-25},{"f":272.5,"h":1.5e-25},{"f":275.5,"h":1.5e-25},
{"f":278.5,"h":1.52e-25},{"f":281.5,"h":1.53e-25},{"f":284.5,"h":1.53e-25},{"f":287.5,"h":1.53e-25},{"f":290.5,"h":1.54e-25},{"f":293.5,"h":1.54e-25},
{"f":296.5,"h":1.56e-25},{"f":299,"h":1.6e-25},{"f":301.5,"h":1.62e-25},{"f":304.5,"h":1.63e-25},{"f":307.5,"h":1.63e-25},{"f":310.5,"h":1.64e-25},
{"f":313.5,"h":1.64e-25},{"f":316.5,"h":1.64e-25},{"f":319.5,"h":1.65e-25},{"f":322.5,"h":1.65e-25},{"f":325.5,"h":1.65e-25},{"f":328.5,"h":1.66e-25},
{"f":331.5,"h":1.66e-25},{"f":334.5,"h":1.66e-25},{"f":337.5,"h":1.67e-25},{"f":340.5,"h":1.68e-25},{"f":343.5,"h":1.69e-25},{"f":346.5,"h":1.7e-25},
{"f":349.5,"h":1.74e-25},{"f":352.5,"h":1.77e-25},{"f":355.5,"h":1.79e-25},{"f":358.5,"h":1.74e-25},{"f":361.5,"h":1.7e-25},{"f":364.5,"h":1.67e-25},
{"f":367.5,"h":1.64e-25},{"f":370.5,"h":1.62e-25},{"f":373.5,"h":1.62e-25},{"f":376.5,"h":1.62e-25},{"f":379.5,"h":1.62e-25},{"f":382.5,"h":1.62e-25},
{"f":385.5,"h":1.62e-25},{"f":388.5,"h":1.63e-25},{"f":391.5,"h":1.64e-25},{"f":394.5,"h":1.64e-25},{"f":397.5,"h":1.65e-25},{"f":400.5,"h":1.66e-25},
{"f":403.5,"h":1.66e-25},{"f":406.5,"h":1.67e-25},{"f":409.5,"h":1.67e-25},{"f":412.5,"h":1.68e-25},{"f":415.5,"h":1.69e-25},{"f":418.5,"h":1.71e-25},
{"f":421.5,"h":1.72e-25},{"f":424.5,"h":1.72e-25},{"f":427.5,"h":1.72e-25},{"f":430.5,"h":1.72e-25},{"f":433.5,"h":1.73e-25},{"f":436.5,"h":1.74e-25},
{"f":439.5,"h":1.75e-25},{"f":442.5,"h":1.76e-25},{"f":445.5,"h":1.76e-25},{"f":448.5,"h":1.76e-25},{"f":451.5,"h":1.77e-25},{"f":454.5,"h":1.77e-25},
{"f":457.5,"h":1.78e-25},{"f":460.5,"h":1.79e-25},{"f":463.5,"h":1.79e-25},{"f":466.5,"h":1.8e-25},{"f":469.5,"h":1.81e-25},{"f":472.5,"h":1.81e-25},
{"f":60,"h":4.55e-23},{"f":60,"h":4.18e-23},{"f":59.7,"h":1.63e-24},{"f":59.7,"h":1.5e-24},{"f":59.7,"h":1.22e-24},
{"f":35.3,"h":6e-24},{"f":27.3,"h":5.6e-24},{"f":24.7,"h":5.2e-24},{"f":20,"h":6.7e-24},{"f":31,"h":2.45e-24},{"f":35.3,"h":3.2e-24},
{"f":34.7,"h":1.9e-24},{"f":38,"h":1.38e-24},{"f":40.7,"h":1.28e-24},{"f":47.7,"h":8.7e-25},
{"f":49.3,"h":4.7e-25},{"f":59.7,"h":4e-25},{"f":66.3,"h":4.2e-25},{"f":63.7,"h":3.75e-25},{"f":69.7,"h":3.2e-25},{"f":66,"h":3e-25},
{"f":69.7,"h":2.75e-25},{"f":73,"h":2.75e-25},{"f":75.3,"h":2.75e-25},{"f":79.7,"h":2.57e-25},{"f":83,"h":6e-25},{"f":83,"h":5.6e-25},
{"f":83.3,"h":3.2e-25},{"f":99.7,"h":4.9e-25},{"f":99.7,"h":4.4e-25},{"f":106.3,"h":2.75e-25},{"f":119.3,"h":2.28e-25},{"f":127.7,"h":2e-25},
{"f":180,"h":2.8e-24},{"f":180,"h":2.7e-24},{"f":180,"h":2.6e-24},{"f":180,"h":1.06e-24},{"f":180,"h":1e-24},{"f":180,"h":9.7e-25},
{"f":180,"h":4e-25},{"f":180,"h":2.1e-25},{"f":180,"h":1.93e-25},{"f":190.3,"h":3.8e-25},{"f":264,"h":3.65e-25},
{"f":131,"h":1.67e-25},{"f":136.3,"h":1.69e-25},{"f":142,"h":1.79e-25},{"f":149.7,"h":1.91e-25},{"f":153.7,"h":1.77e-25},{"f":159.3,"h":1.75e-25},
{"f":167,"h":1.79e-25},{"f":169.7,"h":1.79e-25},{"f":173,"h":1.79e-25},{"f":175.3,"h":1.67e-25},
{"f":203.7,"h":1.93e-25},{"f":212,"h":1.79e-25},{"f":222,"h":1.75e-25},{"f":233.7,"h":1.79e-25},{"f":242,"h":1.95e-25},{"f":248,"h":1.72e-25},
{"f":265,"h":2.64e-25},{"f":258,"h":1.95e-25},{"f":289,"h":1.95e-25},{"f":295,"h":1.95e-25},{"f":299,"h":2e-25},{"f":302,"h":1.95e-25},
{"f":306.7,"h":2.16e-25},{"f":314,"h":2.18e-25},{"f":318,"h":2.13e-25},{"f":319,"h":1.84e-25},{"f":330,"h":2.26e-25},{"f":331,"h":1.91e-25},
{"f":351.7,"h":1.93e-25},{"f":359,"h":2.13e-25},{"f":365.7,"h":2.5e-25},{"f":367.7,"h":1.95e-25},{"f":375,"h":1.95e-25},{"f":382,"h":2.16e-25},
{"f":388,"h":2.18e-25},{"f":391.7,"h":2.1e-25},{"f":398.7,"h":2.04e-25},{"f":411,"h":1.79e-25},{"f":419,"h":2.45e-25},{"f":419,"h":2.18e-25},
{"f":426,"h":1.95e-25},{"f":431,"h":2.13e-25},{"f":439,"h":2.26e-25},{"f":443,"h":2.13e-25},{"f":450,"h":2.18e-25},{"f":452,"h":2.18e-25},
{"f":459.7,"h":2.32e-25},{"f":463,"h":2.26e-25},{"f":465,"h":2.26e-25},{"f":450.7,"h":1.91e-25},{"f":415,"h":1.91e-25},{"f":436.7,"h":1.91e-25},
{"f":287.7,"h":1.75e-25},{"f":271,"h":1.75e-25},{"f":258,"h":1.72e-25},{"f":299,"h":2.8e-25},{"f":299,"h":2.6e-25}
],
"td": [
{"f":21.3,"h":5.2e-24},{"f":22,"h":4.7e-24},{"f":22,"h":3.8e-24},{"f":22.5,"h":4.1e-24},{"f":23,"h":4.35e-24},{"f":23,"h":3.3e-24},{"f":23.5,"h":3.8e-24},
{"f":24,"h":4.6e-24},{"f":24,"h":3.3e-24},{"f":24.5,"h":4.7e-24},{"f":25,"h":4.2e-24},{"f":25,"h":3.55e-24},{"f":25,"h":3e-24},{"f":25.7,"h":3.7e-24},
{"f":26,"h":3.6e-24},{"f":26,"h":3.1e-24},{"f":26,"h":2.7e-24},{"f":26.3,"h":3.4e-24},{"f":27,"h":3.15e-24},{"f":27,"h":2.65e-24},{"f":27,"h":2.25e-24},
{"f":28,"h":2.7e-24},{"f":28,"h":2.2e-24},{"f":28,"h":1.82e-24},{"f":29,"h":2.35e-24},{"f":29,"h":1.97e-24},{"f":29,"h":1.64e-24},
{"f":30,"h":2.12e-24},{"f":30,"h":1.77e-24},{"f":30,"h":1.47e-24},{"f":31,"h":1.9e-24},{"f":31,"h":1.6e-24},{"f":31,"h":1.35e-24},
{"f":32,"h":1.75e-24},{"f":32,"h":1.47e-24},{"f":32,"h":1.24e-24},{"f":33,"h":1.6e-24},{"f":33,"h":1.35e-24},{"f":33,"h":1.14e-24},
{"f":34,"h":1.47e-24},{"f":34,"h":1.24e-24},{"f":34,"h":1.05e-24},{"f":35,"h":1.35e-24},{"f":35,"h":1.14e-24},{"f":35,"h":9.6e-25},
{"f":36,"h":1.25e-24},{"f":36,"h":1.06e-24},{"f":36,"h":9e-25},{"f":37,"h":1.17e-24},{"f":37,"h":1e-24},{"f":37,"h":8.55e-25},
{"f":38,"h":1.09e-24},{"f":38,"h":9.4e-25},{"f":38,"h":8.1e-25},{"f":39,"h":1.04e-24},{"f":39,"h":8.95e-25},{"f":39,"h":7.7e-25},
{"f":40,"h":9.85e-25},{"f":40,"h":8.5e-25},{"f":40,"h":7.35e-25},{"f":41.5,"h":9.4e-25},{"f":41.5,"h":8.1e-25},{"f":41.5,"h":7e-25},
{"f":43,"h":8.9e-25},{"f":43,"h":7.7e-25},{"f":43,"h":6.6e-25},{"f":44.5,"h":8.4e-25},{"f":44.5,"h":7.3e-25},{"f":44.5,"h":6.35e-25},
{"f":46,"h":8e-25},{"f":46,"h":7e-25},{"f":46,"h":6.1e-25},{"f":47.5,"h":7.7e-25},{"f":47.5,"h":6.7e-25},{"f":47.5,"h":5.8e-25},
{"f":49,"h":7.5e-25},{"f":49,"h":6.5e-25},{"f":49,"h":5.6e-25},
{"f":50,"h":7.15e-25},{"f":53,"h":5.45e-25},{"f":56,"h":6.3e-25},{"f":59,"h":4.9e-25},{"f":62,"h":5.75e-25},{"f":65,"h":4.6e-25},
{"f":68,"h":5.35e-25},{"f":71,"h":4.3e-25},{"f":74,"h":4.9e-25},{"f":77,"h":4.1e-25},{"f":80,"h":4.65e-25},{"f":83,"h":3.92e-25},
{"f":86,"h":4.85e-25},{"f":87.5,"h":4.4e-25},{"f":89,"h":3.75e-25},{"f":92,"h":4.05e-25},{"f":95,"h":3.52e-25},{"f":98,"h":3.85e-25},
{"f":101,"h":3.35e-25},{"f":104,"h":3.62e-25},{"f":107,"h":3.2e-25},{"f":110,"h":3.5e-25},{"f":113,"h":3.25e-25},{"f":116,"h":3.85e-25},
{"f":119,"h":3.25e-25},{"f":122,"h":3.37e-25},{"f":125,"h":2.95e-25},{"f":128,"h":3.27e-25},{"f":131,"h":2.85e-25},{"f":134,"h":3.2e-25},
{"f":137,"h":2.85e-25},{"f":140,"h":3.2e-25},{"f":143,"h":2.82e-25},{"f":146,"h":3.2e-25},{"f":149,"h":2.85e-25},{"f":152,"h":3.25e-25},
{"f":155,"h":2.82e-25},{"f":158,"h":3.17e-25},{"f":161,"h":2.85e-25},{"f":164,"h":3.2e-25},{"f":167,"h":2.82e-25},{"f":170,"h":3.2e-25},
{"f":173,"h":2.85e-25},{"f":176,"h":3.25e-25},{"f":179,"h":2.87e-25},{"f":182,"h":3.2e-25},{"f":185,"h":2.85e-25},{"f":188,"h":3.2e-25},
{"f":191,"h":2.82e-25},{"f":194,"h":3.17e-25},{"f":197,"h":2.85e-25},{"f":200,"h":3.2e-25},{"f":203,"h":2.82e-25},{"f":206,"h":3.2e-25},
{"f":209,"h":2.85e-25},{"f":212,"h":3.2e-25},{"f":215,"h":2.82e-25},{"f":218,"h":3.17e-25},{"f":221,"h":2.85e-25},{"f":224,"h":3.2e-25},
{"f":227,"h":2.82e-25},{"f":230,"h":3.2e-25},{"f":233,"h":2.85e-25},{"f":236,"h":3.2e-25},{"f":239,"h":2.82e-25},{"f":242,"h":3.17e-25},
{"f":245,"h":2.85e-25},{"f":248,"h":3.2e-25},{"f":251,"h":2.82e-25},{"f":254,"h":3.2e-25},{"f":257,"h":2.85e-25},{"f":260,"h":3.2e-25},
{"f":263,"h":2.82e-25},{"f":266,"h":3.2e-25},{"f":269,"h":2.85e-25},{"f":272,"h":3.2e-25},{"f":275,"h":2.85e-25},{"f":278,"h":3.25e-25},
{"f":281,"h":2.95e-25},{"f":284,"h":3.27e-25},{"f":287,"h":2.87e-25},{"f":290,"h":3.2e-25},{"f":293,"h":2.87e-25},{"f":296,"h":3.27e-25},
{"f":299,"h":3e-25},{"f":302,"h":3.43e-25},{"f":305,"h":3.13e-25},{"f":308,"h":3.46e-25},{"f":311,"h":3.13e-25},{"f":314,"h":3.46e-25},
{"f":317,"h":3.15e-25},{"f":320,"h":3.5e-25},{"f":323,"h":3.15e-25},{"f":326,"h":3.5e-25},{"f":329,"h":3.17e-25},{"f":332,"h":3.52e-25},
{"f":335,"h":3.17e-25},{"f":338,"h":3.52e-25},{"f":341,"h":3.25e-25},{"f":344,"h":3.6e-25},{"f":347,"h":3.3e-25},{"f":350,"h":3.7e-25},
{"f":353,"h":3.52e-25},{"f":356,"h":3.85e-25},{"f":359,"h":3.37e-25},{"f":362,"h":3.66e-25},{"f":365,"h":3.3e-25},{"f":368,"h":3.56e-25},
{"f":371,"h":3.27e-25},{"f":374,"h":3.56e-25},{"f":377,"h":3.27e-25},{"f":380,"h":3.56e-25},{"f":383,"h":3.27e-25},{"f":386,"h":3.6e-25},
{"f":389,"h":3.27e-25},{"f":392,"h":3.6e-25},{"f":395,"h":3.3e-25},{"f":398,"h":3.62e-25},{"f":401,"h":3.3e-25},{"f":404,"h":3.65e-25},
{"f":407,"h":3.3e-25},{"f":410,"h":3.66e-25},{"f":413,"h":3.35e-25},{"f":416,"h":3.7e-25},{"f":419,"h":3.37e-25},{"f":422,"h":3.75e-25},
{"f":425,"h":3.4e-25},{"f":428,"h":3.78e-25},{"f":431,"h":3.43e-25},{"f":434,"h":3.8e-25},{"f":437,"h":3.46e-25},{"f":440,"h":3.85e-25},
{"f":443,"h":3.5e-25},{"f":446,"h":3.9e-25},{"f":449,"h":3.52e-25},{"f":452,"h":3.92e-25},{"f":455,"h":3.56e-25},{"f":458,"h":3.95e-25},
{"f":461,"h":3.62e-25},{"f":464,"h":4e-25},{"f":467,"h":3.65e-25},{"f":470,"h":4e-25},{"f":473,"h":3.66e-25},
{"f":60.7,"h":1.03e-24},{"f":50.7,"h":1.1e-24},{"f":40.7,"h":1.2e-24},{"f":40.7,"h":1.38e-24},{"f":119.7,"h":1.17e-24},{"f":54.3,"h":4.9e-25},
{"f":81.3,"h":2.9e-25},{"f":85.7,"h":3.2e-25},{"f":179.3,"h":1.15e-24},{"f":298.7,"h":5.3e-25},{"f":302,"h":5.1e-25},{"f":306.3,"h":5e-25},
{"f":298.7,"h":4.45e-25},{"f":305.3,"h":4.5e-25},{"f":291,"h":2.75e-25},{"f":303.7,"h":3.13e-25},{"f":300.5,"h":5.6e-25}
],
"sky": [
{"f":50,"h":6.6e-25},{"f":53,"h":6.8e-25},{"f":56,"h":6.7e-25},{"f":59,"h":6.85e-25},{"f":62,"h":6.9e-25},{"f":64.5,"h":7.3e-25},
{"f":67,"h":6.6e-25},{"f":70,"h":6.1e-25},{"f":73,"h":5.7e-25},{"f":76,"h":5.5e-25},{"f":79,"h":5.2e-25},{"f":82,"h":4.95e-25},
{"f":84.5,"h":5.2e-25},{"f":86.5,"h":6.2e-25},{"f":88.5,"h":5.2e-25},{"f":91,"h":4.6e-25},{"f":94,"h":4.2e-25},{"f":97,"h":4e-25},
{"f":100,"h":3.9e-25},{"f":103,"h":3.85e-25},{"f":106,"h":3.78e-25},{"f":109,"h":3.8e-25},{"f":112,"h":3.95e-25},{"f":114.5,"h":4.3e-25},
{"f":116.5,"h":4.65e-25},{"f":118.5,"h":4.35e-25},{"f":121,"h":3.9e-25},{"f":124,"h":3.62e-25},{"f":127,"h":3.52e-25},{"f":130,"h":3.45e-25},
{"f":133,"h":3.42e-25},{"f":136,"h":3.4e-25},{"f":139,"h":3.4e-25},{"f":142,"h":3.37e-25},{"f":145,"h":3.37e-25},{"f":148,"h":3.35e-25},
{"f":151,"h":3.35e-25},{"f":154,"h":3.33e-25},{"f":157,"h":3.35e-25},{"f":160,"h":3.34e-25},{"f":163,"h":3.35e-25},{"f":166,"h":3.37e-25},
{"f":169,"h":3.35e-25},{"f":172,"h":3.32e-25},{"f":175,"h":3.35e-25},{"f":178,"h":3.42e-25},{"f":180,"h":3.62e-25},{"f":182,"h":3.4e-25},
{"f":185,"h":3.35e-25},{"f":188,"h":3.34e-25},{"f":191,"h":3.35e-25},{"f":194,"h":3.33e-25},{"f":197,"h":3.35e-25},{"f":200,"h":3.34e-25},
{"f":203,"h":3.35e-25},{"f":206,"h":3.33e-25},{"f":209,"h":3.35e-25},{"f":212,"h":3.36e-25},{"f":215,"h":3.34e-25},{"f":218,"h":3.35e-25},
{"f":221,"h":3.35e-25},{"f":224,"h":3.33e-25},{"f":227,"h":3.35e-25},{"f":230,"h":3.36e-25},{"f":233,"h":3.35e-25},{"f":236,"h":3.34e-25},
{"f":239,"h":3.36e-25},{"f":242,"h":3.37e-25},{"f":245,"h":3.36e-25},{"f":248,"h":3.38e-25},{"f":251,"h":3.38e-25},{"f":254,"h":3.4e-25},
{"f":257,"h":3.39e-25},{"f":260,"h":3.4e-25},{"f":263,"h":3.4e-25},{"f":266,"h":3.41e-25},{"f":269,"h":3.4e-25},{"f":272,"h":3.42e-25},
{"f":275,"h":3.42e-25},{"f":278,"h":3.45e-25},{"f":279.5,"h":3.62e-25},{"f":281,"h":3.85e-25},{"f":282.5,"h":3.7e-25},{"f":284,"h":3.5e-25},
{"f":287,"h":3.4e-25},{"f":290,"h":3.4e-25},{"f":293,"h":3.42e-25},{"f":296,"h":3.45e-25},{"f":299,"h":3.56e-25},{"f":302,"h":3.66e-25},
{"f":305,"h":3.72e-25},{"f":308,"h":3.75e-25},{"f":311,"h":3.8e-25},{"f":314,"h":3.85e-25},{"f":317,"h":3.9e-25},{"f":320,"h":3.9e-25},
{"f":323,"h":3.92e-25},{"f":326,"h":3.95e-25},{"f":329,"h":4e-25},{"f":331,"h":4.2e-25},{"f":332.5,"h":4e-25},{"f":335,"h":4.05e-25},
{"f":338,"h":4.08e-25},{"f":341,"h":4.15e-25},{"f":344,"h":4.2e-25},{"f":347,"h":4.35e-25},{"f":350,"h":4.45e-25},{"f":352,"h":4.55e-25},
{"f":354,"h":4.65e-25},{"f":356,"h":4.55e-25},{"f":358,"h":4.45e-25},{"f":361,"h":4.4e-25},{"f":364,"h":4.3e-25},{"f":366,"h":4.2e-25},
{"f":368,"h":4.08e-25},{"f":371,"h":4e-25},{"f":374,"h":3.95e-25},{"f":377,"h":3.95e-25},{"f":380,"h":4e-25},{"f":383,"h":4e-25},
{"f":386,"h":4.02e-25},{"f":389,"h":4.05e-25},{"f":392,"h":4.08e-25},{"f":395,"h":4.08e-25},{"f":398,"h":4.1e-25},{"f":401,"h":4.1e-25},
{"f":404,"h":4.15e-25},{"f":407,"h":4.18e-25},{"f":410,"h":4.18e-25},{"f":413,"h":4.2e-25},{"f":416,"h":4.25e-25},{"f":419,"h":4.35e-25},
{"f":422,"h":4.3e-25},{"f":425,"h":4.3e-25},{"f":428,"h":4.35e-25},{"f":431,"h":4.35e-25},{"f":434,"h":4.4e-25},{"f":437,"h":4.4e-25},
{"f":440,"h":4.42e-25},{"f":443,"h":4.45e-25},{"f":446,"h":4.5e-25},{"f":448.5,"h":4.75e-25},{"f":450.5,"h":4.8e-25},{"f":452.5,"h":4.65e-25},
{"f":455,"h":4.5e-25},{"f":458,"h":4.5e-25},{"f":461,"h":4.48e-25},{"f":464,"h":4.5e-25},{"f":467,"h":4.48e-25},{"f":470,"h":4.5e-25},
{"f":473,"h":4.48e-25},{"f":475,"h":4.5e-25},
{"f":60,"h":2.45e-23},{"f":59.7,"h":1.58e-24},{"f":59.7,"h":1.38e-24},{"f":59.7,"h":1.25e-24},{"f":59.7,"h":1.12e-24},{"f":60,"h":8.8e-25},
{"f":119.7,"h":1.58e-24},{"f":180,"h":1.03e-23},{"f":179.3,"h":9.1e-25},{"f":180,"h":7.1e-25},{"f":299.3,"h":1.63e-24},{"f":305.3,"h":1.6e-24},
{"f":299.3,"h":1.12e-24},{"f":302.7,"h":1.16e-24},{"f":301.3,"h":9.8e-25},{"f":301,"h":9.4e-25},{"f":314.3,"h":1.93e-24},{"f":314.3,"h":9.8e-25},
{"f":314.3,"h":7.7e-25},{"f":299.5,"h":7.3e-25},{"f":314,"h":6.3e-25},{"f":330.3,"h":6.1e-25},{"f":330.3,"h":5.4e-25},{"f":330.5,"h":4.8e-25},
{"f":451.3,"h":9.2e-25},{"f":451.3,"h":8.2e-25},{"f":451.5,"h":5.5e-25},{"f":418.7,"h":5.6e-25},{"f":418.7,"h":5e-25}
],
"freq": [
{"f":26,"h":6.3e-24},{"f":22.7,"h":4.7e-24},{"f":39.7,"h":4.6e-24},{"f":29.3,"h":3.4e-24},{"f":35.7,"h":3.25e-24},{"f":41.7,"h":3.4e-24},
{"f":53.7,"h":3.05e-24},{"f":58.3,"h":3.3e-24},{"f":59.7,"h":3.05e-24},{"f":70.7,"h":2.85e-24},{"f":44,"h":2.3e-24},{"f":46,"h":2.3e-24},
{"f":47.7,"h":2.15e-24},{"f":49,"h":2.15e-24},{"f":51.7,"h":2.25e-24},{"f":32.7,"h":2.15e-24},{"f":38,"h":2.15e-24},{"f":75,"h":2.1e-24},
{"f":96.7,"h":2.15e-24},{"f":135.7,"h":2.1e-24},{"f":47,"h":1.62e-24},{"f":118.7,"h":1.41e-24},{"f":119.7,"h":8.2e-25},{"f":123.3,"h":1e-24},
{"f":145.7,"h":1.03e-24},{"f":31.7,"h":1.17e-24},{"f":40.7,"h":1.05e-24},{"f":44.7,"h":9.4e-25},{"f":38,"h":9e-25},{"f":36.7,"h":8.6e-25},
{"f":42.7,"h":7.8e-25},{"f":56,"h":8.2e-25},{"f":61.3,"h":7.9e-25},{"f":66.3,"h":9.4e-25},{"f":67.7,"h":1.15e-24},{"f":76.3,"h":1.15e-24},
{"f":77.7,"h":1.03e-24},{"f":85.3,"h":1.17e-24},{"f":98.7,"h":1.16e-24},{"f":74,"h":8e-25},{"f":87.7,"h":7.5e-25},{"f":57.7,"h":7.1e-25},
{"f":50.3,"h":7e-25},{"f":53,"h":6.6e-25},{"f":54.7,"h":5.6e-25},{"f":60.3,"h":5.4e-25},{"f":64.3,"h":5.7e-25},{"f":68.7,"h":5.4e-25},
{"f":62.7,"h":4.75e-25},{"f":66,"h":4.75e-25},{"f":69.7,"h":4.75e-25},{"f":73,"h":5.5e-25},{"f":75.3,"h":5.4e-25},{"f":79.7,"h":5.7e-25},
{"f":82,"h":5.9e-25},{"f":89.7,"h":5.6e-25},{"f":93,"h":7e-25},{"f":93.7,"h":4.5e-25},{"f":84.3,"h":4.7e-25},{"f":87,"h":4.7e-25},
{"f":82,"h":4e-25},{"f":78.7,"h":3.5e-25},{"f":84.3,"h":3.5e-25},{"f":91.3,"h":3.5e-25},{"f":95.3,"h":3.56e-25},{"f":98,"h":3.53e-25},
{"f":101.7,"h":4.6e-25},{"f":103.3,"h":7.1e-25},{"f":107.3,"h":6e-25},{"f":99.7,"h":3.13e-25},{"f":101,"h":2.68e-25},{"f":103,"h":2.7e-25},
{"f":104.3,"h":3.2e-25},{"f":106.3,"h":3e-25},{"f":108.7,"h":2.68e-25},{"f":109.7,"h":2.48e-25},{"f":112,"h":2.36e-25},{"f":111,"h":3.46e-25},
{"f":115.3,"h":3.83e-25},{"f":113,"h":3.2e-25},{"f":116.3,"h":3.22e-25},{"f":117.7,"h":3.1e-25},{"f":121.3,"h":2.8e-25},{"f":122.7,"h":2.75e-25},
{"f":126.3,"h":5.4e-25},{"f":125.3,"h":4.4e-25},{"f":129.7,"h":4.1e-25},{"f":128.7,"h":2.53e-25},{"f":131.3,"h":2.95e-25},{"f":134.7,"h":3.27e-25},
{"f":137.7,"h":2.87e-25},{"f":141,"h":2.9e-25},{"f":141.3,"h":2.68e-25},{"f":144.7,"h":4.3e-25},{"f":146.3,"h":2.85e-25},{"f":149.3,"h":5.1e-25},
{"f":148.7,"h":3e-25},{"f":152,"h":3e-25},{"f":152.7,"h":2.68e-25},{"f":154.7,"h":2.36e-25},{"f":158,"h":2.6e-25},{"f":159.3,"h":2.34e-25},
{"f":162.7,"h":2.68e-25},{"f":164.7,"h":7e-25},{"f":166.3,"h":2.75e-25},{"f":168,"h":2.53e-25},{"f":169.3,"h":2.36e-25},{"f":170.3,"h":8.1e-25},
{"f":171.3,"h":2.36e-25},{"f":172.7,"h":2.68e-25},{"f":175.3,"h":7.1e-25},{"f":177,"h":2.7e-25},{"f":174.3,"h":2.95e-25},{"f":178,"h":2.55e-24},
{"f":180.7,"h":2.3e-24},{"f":179.3,"h":1.5e-24},{"f":195.7,"h":1.58e-24},{"f":200.3,"h":1.86e-24},{"f":210.7,"h":3.6e-24},{"f":230.3,"h":2.1e-24},
{"f":235,"h":1.93e-24},{"f":240.3,"h":4.7e-24},{"f":150.3,"h":3.35e-24},{"f":155.3,"h":9.2e-25},{"f":205.3,"h":1.05e-24},{"f":190.3,"h":8.2e-25},
{"f":160.5,"h":5.6e-25},{"f":163.7,"h":5.6e-25},{"f":185.7,"h":5.9e-25},{"f":201.3,"h":5.6e-25},{"f":225.3,"h":6.6e-25},{"f":219.7,"h":5.1e-25},
{"f":217.3,"h":4.6e-25},{"f":232.7,"h":5.3e-25},{"f":229.3,"h":4.6e-25},{"f":250.3,"h":6.9e-25},{"f":255.3,"h":7.6e-25},{"f":260.3,"h":6.6e-25},
{"f":259.3,"h":6.3e-25},{"f":264.7,"h":5.6e-25},{"f":268.3,"h":6.3e-25},{"f":270.3,"h":5.8e-25},{"f":275.3,"h":6.3e-25},{"f":277.7,"h":7.1e-25},
{"f":278.7,"h":8.1e-25},{"f":280.3,"h":5e-25},{"f":283.7,"h":4.6e-25},{"f":286.3,"h":4.8e-25},{"f":290.3,"h":6.1e-25},{"f":296,"h":6.1e-25},
{"f":298,"h":2.35e-24},{"f":301,"h":2e-24},{"f":302.7,"h":1.93e-24},{"f":305.3,"h":3.5e-24},{"f":314.3,"h":2.2e-24},{"f":320,"h":2.5e-24},
{"f":313,"h":1.05e-24},{"f":306.3,"h":8.7e-25},{"f":310.3,"h":8.2e-25},{"f":304.3,"h":7.9e-25},{"f":311.3,"h":7e-25},{"f":318,"h":7.2e-25},
{"f":309.3,"h":4.75e-25},{"f":316.3,"h":5.1e-25},{"f":296.3,"h":5.1e-25},{"f":299.3,"h":6.1e-25},{"f":289.7,"h":4.5e-25},{"f":281,"h":4.2e-25},
{"f":253,"h":7.5e-25},{"f":263,"h":5.1e-25},{"f":267,"h":4.9e-25},{"f":251.7,"h":5.1e-25},{"f":249.7,"h":4.6e-25},{"f":243,"h":4.6e-25},
{"f":239.7,"h":4.3e-25},{"f":243.5,"h":4.3e-25},{"f":204.7,"h":4.35e-25},{"f":204.3,"h":4.1e-25},{"f":197.3,"h":4.2e-25},{"f":206.3,"h":3.8e-25},
{"f":330,"h":1e-24},{"f":324.3,"h":9.2e-25},{"f":335,"h":8.8e-25},{"f":306.7,"h":8.8e-25},{"f":325.7,"h":8.1e-25},{"f":278.3,"h":8e-25},
{"f":299,"h":8.2e-25},{"f":323.3,"h":7.1e-25},{"f":290,"h":6.2e-25},{"f":295.3,"h":6.3e-25},{"f":297.7,"h":6.1e-25},{"f":303.3,"h":6.2e-25},
{"f":312,"h":5.8e-25},{"f":315,"h":5.6e-25},{"f":322.3,"h":6.2e-25},{"f":321.3,"h":5.3e-25},{"f":331,"h":5.1e-25},{"f":319.3,"h":4.5e-25},
{"f":328,"h":4.55e-25},{"f":333.7,"h":4.55e-25},{"f":279.7,"h":4.95e-25},{"f":282.7,"h":4.6e-25},{"f":287.7,"h":4.4e-25},{"f":329.7,"h":4.05e-25},
{"f":334.7,"h":4.3e-25},{"f":338.7,"h":8.6e-25},{"f":351.7,"h":8.2e-25},{"f":355.3,"h":7.1e-25},{"f":361.3,"h":7e-25},{"f":350.7,"h":5.7e-25},
{"f":346.3,"h":4.6e-25},{"f":343,"h":3.9e-25},{"f":344.7,"h":3.4e-25},{"f":350.7,"h":2.87e-25},{"f":358,"h":3.9e-25},{"f":365.3,"h":4.4e-25},
{"f":369.7,"h":5e-25},{"f":368.7,"h":6.2e-25},{"f":359.7,"h":3.56e-25},{"f":371,"h":3.5e-25},{"f":375.3,"h":2.8e-25},{"f":380.3,"h":3.13e-25},
{"f":382.7,"h":3.56e-25},{"f":385.3,"h":4.05e-25},{"f":384.7,"h":8.4e-25},{"f":389.3,"h":6.3e-25},{"f":409.7,"h":6.3e-25},{"f":404,"h":5.7e-25},
{"f":396,"h":4.8e-25},{"f":393,"h":4.55e-25},{"f":388.7,"h":4.4e-25},{"f":405,"h":4.2e-25},{"f":407.3,"h":4.95e-25},{"f":408.3,"h":4.05e-25},
{"f":411,"h":4.6e-25},{"f":413,"h":4.6e-25},{"f":415,"h":4.65e-25},{"f":418.3,"h":4.8e-25},{"f":420,"h":5.8e-25},{"f":412.7,"h":4.2e-25},
{"f":409,"h":3.7e-25},{"f":391,"h":3.46e-25},{"f":394.7,"h":3.2e-25},{"f":388.7,"h":3.27e-25},{"f":399.3,"h":3.46e-25},{"f":402,"h":3.46e-25},
{"f":403,"h":3.2e-25},{"f":401,"h":2.8e-25},{"f":406,"h":2.7e-25},{"f":416,"h":3.46e-25},{"f":418,"h":3.4e-25},{"f":421,"h":3.66e-25},
{"f":423.7,"h":3.46e-25},{"f":427,"h":3.27e-25},{"f":428.7,"h":3.2e-25},{"f":425.3,"h":2.84e-25},{"f":427.7,"h":2.84e-25},{"f":432.7,"h":3.3e-25},
{"f":434.3,"h":3.46e-25},{"f":437,"h":2.84e-25},{"f":437.7,"h":3e-25},{"f":439.3,"h":3.7e-25},{"f":441,"h":3e-25},{"f":443,"h":3.6e-25},
{"f":446.3,"h":2.8e-25},{"f":445.3,"h":3.9e-25},{"f":448.7,"h":4e-25},{"f":444.3,"h":5e-25},{"f":434.3,"h":4.6e-25},{"f":447.5,"h":3.46e-25},
{"f":449.7,"h":3.35e-25},{"f":452.7,"h":3.46e-25},{"f":454.3,"h":3.27e-25},{"f":456.3,"h":3.56e-25},{"f":455.3,"h":5.9e-25},{"f":456,"h":5.1e-25},
{"f":458.7,"h":7.1e-25},{"f":458,"h":4.6e-25},{"f":460.3,"h":5.2e-25},{"f":462,"h":4.6e-25},{"f":463,"h":4.4e-25},{"f":464.3,"h":5.8e-25},
{"f":466,"h":3.8e-25},{"f":467,"h":5.1e-25},{"f":468,"h":4.75e-25},{"f":469.3,"h":3.25e-25},{"f":471.3,"h":3.25e-25},{"f":472,"h":3.8e-25},
{"f":473,"h":5.9e-25},{"f":474.5,"h":5.7e-25},{"f":470.3,"h":6.9e-25},{"f":451.3,"h":9.4e-25},{"f":452.3,"h":7.6e-25},
{"f":186,"h":3.5e-25},{"f":188.7,"h":2.87e-25},{"f":193.7,"h":3.13e-25},{"f":198.7,"h":2.68e-25},{"f":203.7,"h":3.46e-25},{"f":208.7,"h":2.53e-25},
{"f":213.7,"h":2.87e-25},{"f":218.7,"h":3.3e-25},{"f":223.7,"h":2.75e-25},{"f":226,"h":2.42e-25},{"f":232,"h":2.53e-25},{"f":236.3,"h":3.27e-25},
{"f":240.3,"h":2.87e-25},{"f":245.3,"h":2.53e-25},{"f":248.7,"h":3.56e-25},{"f":253.7,"h":3.2e-25},{"f":257,"h":2.64e-25},{"f":262,"h":3e-25},
{"f":267,"h":3.5e-25},{"f":272,"h":2.75e-25},{"f":277,"h":3.13e-25},{"f":282,"h":3.7e-25},{"f":292,"h":3.56e-25},{"f":297,"h":3.13e-25},
{"f":302,"h":4.05e-25},{"f":307,"h":3.27e-25},{"f":312,"h":2.64e-25},{"f":317,"h":3.56e-25},{"f":322,"h":3.13e-25},{"f":327,"h":2.87e-25},
{"f":332,"h":3.5e-25},{"f":338.7,"h":3.07e-25},{"f":258,"h":2.5e-25},{"f":271,"h":2.7e-25},{"f":273,"h":2.7e-25},{"f":282,"h":2.95e-25},
{"f":326.3,"h":2.82e-25},{"f":332.3,"h":3.2e-25},{"f":347.3,"h":3.1e-25},{"f":381.7,"h":2.82e-25},{"f":401.3,"h":2.8e-25},{"f":426,"h":2.82e-25},
{"f":438.7,"h":2.95e-25},{"f":341,"h":7.3e-25},{"f":352.3,"h":8.2e-25},{"f":353.7,"h":6.8e-25},{"f":355,"h":5.9e-25},{"f":367.7,"h":7.1e-25},
{"f":369.7,"h":7.8e-25},{"f":368.3,"h":5.8e-25},{"f":370.3,"h":4.6e-25},{"f":351.7,"h":5.3e-25},{"f":343.7,"h":5.3e-25},{"f":345.3,"h":4.75e-25},
{"f":339.7,"h":4.45e-25},{"f":386,"h":5.5e-25},{"f":410,"h":6.3e-25},{"f":342.3,"h":3.2e-25},{"f":353.7,"h":3.56e-25},{"f":357.3,"h":3.35e-25},
{"f":302.3,"h":3.2e-25},{"f":308,"h":3.46e-25},{"f":325.7,"h":3.2e-25},{"f":308.7,"h":4.8e-25},{"f":296.7,"h":5.6e-25},
{"f":24,"h":5.4e-24},{"f":27.5,"h":4.1e-24},{"f":33.5,"h":2.9e-24},{"f":30.5,"h":1.55e-24},{"f":28.5,"h":2.2e-24},{"f":45.3,"h":1.45e-24}
]
},
"resolve": {"axis": {"x": "independent", "y": "independent"}},
"layer": [
{
"data": {"name": "lin"},
"mark": {"type": "point", "filled": true, "size": 190, "opacity": 1, "strokeWidth": 0},
"encoding": {
"x": {"field": "f", "type": "quantitative", "scale": {"domain": [20, 475], "nice": false, "zero": false},
 "axis": {"orient": "bottom", "values": [50,100,150,200,250,300,350,400,450], "format": "d",
  "labelFont": "Liberation Serif", "labelFontSize": 46, "labelColor": "#262626", "labelPadding": 35,
  "labelFlush": false, "labelOverlap": false,
  "tickSize": -15, "tickWidth": 1.5, "tickColor": "#262626", "domain": false,
  "grid": true, "gridColor": "#dcdcdc", "gridWidth": 1.5,
  "title": "Frequency (Hz)", "titleFont": "Liberation Serif", "titleFontSize": 46, "titleFontWeight": "normal",
  "titleColor": "#262626", "titleX": 682, "titleY": 105, "titleAlign": "center", "titleBaseline": "alphabetic"}},
"y": {"field": "h", "type": "quantitative", "scale": {"type": "log", "domain": [1e-25, 1e-21], "nice": false},
 "axis": {"orient": "left",
  "values": [1e-25,2e-25,3e-25,4e-25,5e-25,6e-25,7e-25,8e-25,9e-25,1e-24,2e-24,3e-24,4e-24,5e-24,6e-24,7e-24,8e-24,9e-24,1e-23,2e-23,3e-23,4e-23,5e-23,6e-23,7e-23,8e-23,9e-23,1e-22,2e-22,3e-22,4e-22,5e-22,6e-22,7e-22,8e-22,9e-22,1e-21],
  "labelExpr": "datum.value == 1e-21 ? '10⁻²¹' : datum.value == 1e-22 ? '10⁻²²' : datum.value == 1e-23 ? '10⁻²³' : datum.value == 1e-24 ? '10⁻²⁴' : datum.value == 1e-25 ? '10⁻²⁵' : ''",
  "labelFont": "Liberation Serif", "labelFontSize": 46, "labelColor": "#262626", "labelPadding": 30, "labelOffset": 6,
  "labelFlush": false, "labelOverlap": false, "labelBound": false,
  "tickSize": {"condition": {"test": "indexof([1e-25,1e-24,1e-23,1e-22,1e-21], datum.value) >= 0", "value": -15}, "value": -8},
  "tickWidth": 1.5, "tickColor": "#262626", "domain": false,
  "grid": true, "gridWidth": 1.5,
  "gridColor": {"condition": {"test": "indexof([1e-25,1e-24,1e-23,1e-22,1e-21], datum.value) >= 0", "value": "#dcdcdc"}, "value": "#bdbdbd"},
  "gridDash": {"condition": {"test": "indexof([1e-25,1e-24,1e-23,1e-22,1e-21], datum.value) >= 0", "value": []}, "value": [2, 6]},
  "title": "h₀⁹⁵%", "titleFont": "Liberation Serif", "titleFontStyle": "italic", "titleFontWeight": "normal",
  "titleFontSize": 46, "titleColor": "#262626", "titleAngle": -90, "titleX": -148, "titleY": 540,
  "titleAlign": "center", "titleBaseline": "middle"}},
"color": {"datum": "Powerflux lin. pol.", "type": "nominal",
 "scale": {"domain": ["Powerflux lin. pol.", "Powerflux circ. pol.", "TD Fstat", "Sky Hough", "Freq. Hough"], "range": ["#00ffff", "#000000", "#34497d", "#ff00ff", "#ff0000"]},
 "legend": {"title": null, "orient": "none", "legendX": 942, "legendY": 15, "padding": 4, "symbolOffset": 5, "labelOffset": 7,
  "rowPadding": 0.5, "labelFont": "Liberation Serif", "labelFontSize": 45, "labelColor": "#000000", "labelLimit": 0,
  "symbolSize": 130, "symbolStrokeWidth": 0, "strokeColor": "#262626", "fillColor": "#ffffff"}},
"shape": {"datum": "Powerflux lin. pol.", "type": "nominal",
 "scale": {"domain": ["Powerflux lin. pol.", "Powerflux circ. pol.", "TD Fstat", "Sky Hough", "Freq. Hough"],
  "range": ["circle", "circle", "square", "M0,-1L0.2887,-0.5L0.866,-0.5L0.577,0L0.866,0.5L0.2887,0.5L0,1L-0.2887,0.5L-0.866,0.5L-0.577,0L-0.866,-0.5L-0.2887,-0.5Z", "M0,-1L0.2245,-0.309L0.951,-0.309L0.363,0.118L0.588,0.809L0,0.382L-0.588,0.809L-0.363,0.118L-0.951,-0.309L-0.2245,-0.309Z"]},
 "legend": {"title": null, "orient": "none", "legendX": 942, "legendY": 15, "padding": 4, "symbolOffset": 5, "labelOffset": 7,
  "rowPadding": 0.5, "labelFont": "Liberation Serif", "labelFontSize": 45, "labelColor": "#000000", "labelLimit": 0,
  "symbolSize": 130, "symbolStrokeWidth": 0, "strokeColor": "#262626", "fillColor": "#ffffff"}}
}
},
{
"data": {"name": "circ"},
"mark": {"type": "point", "filled": true, "size": 200, "opacity": 1, "strokeWidth": 0},
"encoding": {
"x": {"field": "f", "type": "quantitative", "scale": {"domain": [20, 475], "nice": false, "zero": false},
 "axis": {"orient": "top", "values": [50,100,150,200,250,300,350,400,450], "labels": false, "title": null,
  "tickSize": -15, "tickWidth": 1.5, "tickColor": "#262626", "domain": false, "grid": false}},
"y": {"field": "h", "type": "quantitative", "scale": {"type": "log", "domain": [1e-25, 1e-21], "nice": false},
 "axis": {"orient": "right",
  "values": [1e-25,2e-25,3e-25,4e-25,5e-25,6e-25,7e-25,8e-25,9e-25,1e-24,2e-24,3e-24,4e-24,5e-24,6e-24,7e-24,8e-24,9e-24,1e-23,2e-23,3e-23,4e-23,5e-23,6e-23,7e-23,8e-23,9e-23,1e-22,2e-22,3e-22,4e-22,5e-22,6e-22,7e-22,8e-22,9e-22,1e-21],
  "labels": false, "title": null,
  "tickSize": {"condition": {"test": "indexof([1e-25,1e-24,1e-23,1e-22,1e-21], datum.value) >= 0", "value": -15}, "value": -8},
  "tickWidth": 1.5, "tickColor": "#262626", "domain": false, "grid": false}},
"color": {"datum": "Powerflux circ. pol.", "type": "nominal",
 "scale": {"domain": ["Powerflux lin. pol.", "Powerflux circ. pol.", "TD Fstat", "Sky Hough", "Freq. Hough"], "range": ["#00ffff", "#000000", "#34497d", "#ff00ff", "#ff0000"]}},
"shape": {"datum": "Powerflux circ. pol.", "type": "nominal",
 "scale": {"domain": ["Powerflux lin. pol.", "Powerflux circ. pol.", "TD Fstat", "Sky Hough", "Freq. Hough"],
  "range": ["circle", "circle", "square", "M0,-1L0.2887,-0.5L0.866,-0.5L0.577,0L0.866,0.5L0.2887,0.5L0,1L-0.2887,0.5L-0.866,0.5L-0.577,0L-0.866,-0.5L-0.2887,-0.5Z", "M0,-1L0.2245,-0.309L0.951,-0.309L0.363,0.118L0.588,0.809L0,0.382L-0.588,0.809L-0.363,0.118L-0.951,-0.309L-0.2245,-0.309Z"]}}
}
},
{
"data": {"name": "td"},
"mark": {"type": "point", "filled": true, "size": 180, "opacity": 1, "strokeWidth": 0},
"encoding": {
"x": {"field": "f", "type": "quantitative", "axis": null},
"y": {"field": "h", "type": "quantitative", "axis": null},
"color": {"datum": "TD Fstat", "type": "nominal"},
"shape": {"datum": "TD Fstat", "type": "nominal"}
}
},
{
"data": {"name": "sky"},
"mark": {"type": "point", "filled": true, "size": 300, "opacity": 1, "strokeWidth": 0},
"encoding": {
"x": {"field": "f", "type": "quantitative", "axis": null},
"y": {"field": "h", "type": "quantitative", "axis": null},
"color": {"datum": "Sky Hough", "type": "nominal"},
"shape": {"datum": "Sky Hough", "type": "nominal"}
}
},
{
"data": {"name": "freq"},
"mark": {"type": "point", "filled": true, "size": 450, "opacity": 1, "stroke": "#b00000", "strokeWidth": 0.6},
"encoding": {
"x": {"field": "f", "type": "quantitative", "axis": null},
"y": {"field": "h", "type": "quantitative", "axis": null},
"color": {"datum": "Freq. Hough", "type": "nominal"},
"shape": {"datum": "Freq. Hough", "type": "nominal"}
}
},
{
"data": {"values": [{"f": 78.67, "h": 3.22e-22, "t": "B. Abbott"}, {"f": 78.67, "h": 1.96e-22, "t": "PRD\u00a0\u00a096, 062002 (2017)"}]},
"mark": {"type": "text", "align": "left", "baseline": "alphabetic", "font": "Liberation Sans", "fontSize": 48, "color": "#000000"},
"encoding": {"x": {"field": "f", "type": "quantitative", "axis": null}, "y": {"field": "h", "type": "quantitative", "axis": null}, "text": {"field": "t"}}
},
{
"data": {"values": [{"f": 148, "h": 3.22e-22, "t": "et al.,"}]},
"mark": {"type": "text", "align": "left", "baseline": "alphabetic", "font": "Liberation Sans", "fontSize": 48, "fontStyle": "italic", "color": "#000000"},
"encoding": {"x": {"field": "f", "type": "quantitative", "axis": null}, "y": {"field": "h", "type": "quantitative", "axis": null}, "text": {"field": "t"}}
},
{
"data": {"values": [{"f": 243.67, "h": 3.67e-23, "t": "Lower frequency band"}, {"f": 243.67, "h": 2.25e-23, "t": "badly contaminated with"}, {"f": 243.67, "h": 1.38e-23, "t": "instrumental spectral lines"}]},
"mark": {"type": "text", "align": "left", "baseline": "alphabetic", "font": "Liberation Sans", "fontSize": 48, "fontWeight": "bold", "color": "#ff0000"},
"encoding": {"x": {"field": "f", "type": "quantitative", "axis": null}, "y": {"field": "h", "type": "quantitative", "axis": null}, "text": {"field": "t"}}
}
]
}
